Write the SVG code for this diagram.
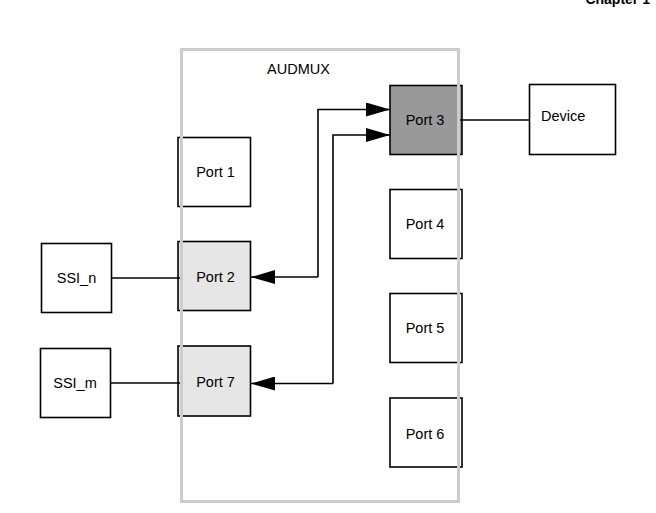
<svg xmlns="http://www.w3.org/2000/svg" width="656" height="513" viewBox="0 0 656 513">
<style>
.box{stroke:#000;stroke-width:1.6}
.w{fill:#fff}
.lg{fill:#e6e6e6}
.dg{fill:#999}
.t{font-family:"Liberation Sans",Arial,sans-serif;font-size:14.5px;fill:#000}
.c{text-anchor:middle}
.ln{fill:none;stroke:#000;stroke-width:1.6}
</style>
<defs>
<marker id="ah" markerUnits="userSpaceOnUse" markerWidth="24" markerHeight="14" refX="24" refY="7" orient="auto">
<path d="M0,0 L24,7 L0,14 Z" fill="#000"/>
</marker>
</defs>
<rect width="656" height="513" fill="#fff"/>
<text x="650" y="4" text-anchor="end" style="font-family:'Liberation Sans',Arial,sans-serif;font-size:14px;font-weight:bold">Chapter 1</text>
<g id="ssi_n"><rect class="box w" x="41.5" y="243.5" width="70" height="69"/><text class="t c" x="76.5" y="283">SSI_n</text></g>
<g id="ssi_m"><rect class="box w" x="40.5" y="348.5" width="70" height="69"/><text class="t c" x="75" y="388">SSI_m</text></g>
<g id="device"><rect class="box w" x="529.5" y="84.5" width="86" height="70"/><text class="t" x="541" y="121">Device</text></g>
<g id="port1"><rect class="box w" x="178" y="137.5" width="72.5" height="69"/><text class="t c" x="215.5" y="177">Port 1</text></g>
<g id="port2"><rect class="box lg" x="178" y="241.5" width="72.5" height="69"/><text class="t c" x="215.5" y="281.5">Port 2</text></g>
<g id="port7"><rect class="box lg" x="178" y="346" width="72.5" height="70"/><text class="t c" x="215.5" y="387">Port 7</text></g>
<g id="port3"><rect class="box dg" x="390" y="85.5" width="72" height="69"/><text class="t c" x="425" y="125">Port 3</text></g>
<g id="port4"><rect class="box w" x="390" y="189.5" width="72" height="69"/><text class="t c" x="425" y="229">Port 4</text></g>
<g id="port5"><rect class="box w" x="390" y="293.5" width="72" height="69"/><text class="t c" x="425" y="333">Port 5</text></g>
<g id="port6"><rect class="box w" x="390" y="398" width="72" height="69"/><text class="t c" x="425" y="439">Port 6</text></g>
<g id="audmux"><rect x="181.5" y="49.5" width="277" height="452" fill="none" stroke="#cccccc" stroke-width="3"/><text class="t c" x="298.5" y="74">AUDMUX</text></g>
<g id="connectors">
<line class="ln" x1="111.5" y1="278" x2="180" y2="278"/>
<line class="ln" x1="110.5" y1="383" x2="180" y2="383"/>
<line class="ln" x1="460" y1="120" x2="529.5" y2="120"/>
<polyline class="ln" points="318,277 318,109.5 390,109.5" marker-end="url(#ah)"/>
<line class="ln" x1="318" y1="277" x2="251" y2="277" marker-end="url(#ah)"/>
<polyline class="ln" points="333,383.5 333,135 390,135" marker-end="url(#ah)"/>
<line class="ln" x1="333" y1="383.5" x2="251" y2="383.5" marker-end="url(#ah)"/>
</g>
</svg>
